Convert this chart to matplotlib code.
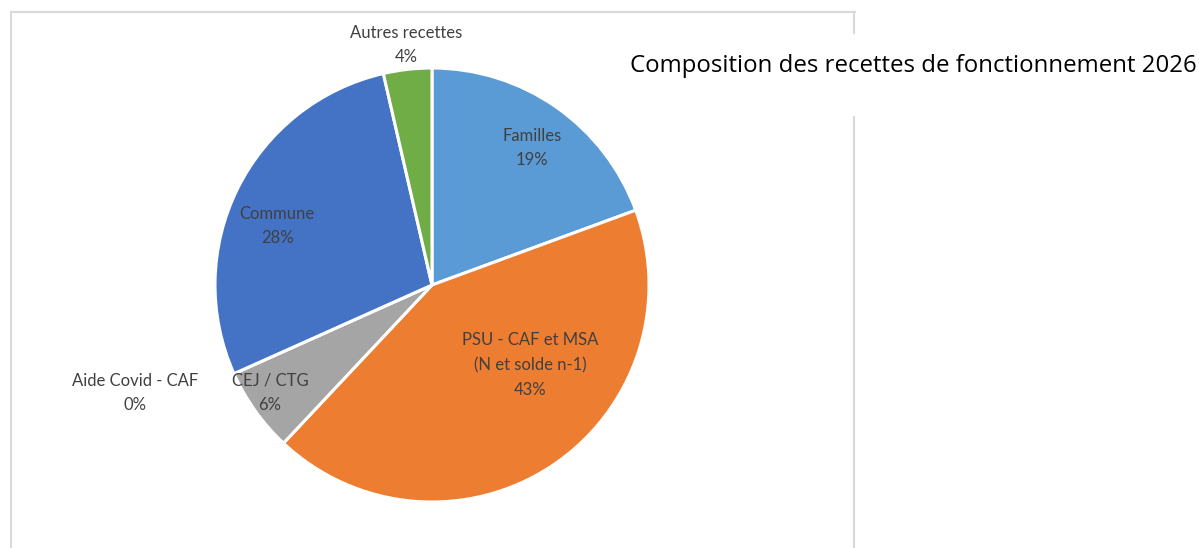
import matplotlib
matplotlib.use("Agg")
import matplotlib.pyplot as plt
from matplotlib.lines import Line2D
import numpy as np

categories = ["Familles", "PSU - CAF et MSA\n(N et solde n-1)", "CEJ / CTG",
              "Aide Covid - CAF", "Commune", "Autres recettes"]
values = [19.4, 42.6, 6.3, 0.0, 28.1, 3.6]
colors = ["#5B9BD5", "#ED7D31", "#A5A5A5", "#FFC000", "#4472C4", "#70AD47"]
title = "Composition des recettes de fonctionnement 2026"

# label placement (layout): (radius factor, angle offset in deg)
label_layout = [(0.782, -1.2), (0.583, 17.3), (0.897, -1.8), (1.456, -4.1),
                (0.764, 5.6), (1.112, -0.3)]

W, H = 1199, 548
fig = plt.figure(figsize=(W / 100, H / 100), dpi=100)
fig.patch.set_facecolor("white")

cx, cy, r = 432, 285, 217
ax = fig.add_axes([(cx - r) / W, (H - cy - r) / H, 2 * r / W, 2 * r / H])

wedges, _ = ax.pie(values, colors=colors, startangle=90, counterclock=False,
                   radius=1, wedgeprops=dict(edgecolor="white", linewidth=2.2))
ax.set_xlim(-1, 1)
ax.set_ylim(-1, 1)
ax.set_aspect("equal")
ax.axis("off")

for w, cat, v, (rf, dang) in zip(wedges, categories, values, label_layout):
    mid = np.deg2rad((w.theta1 + w.theta2) / 2 + dang)
    x, y = rf * np.cos(mid), rf * np.sin(mid)
    ax.text(x, y, f"{cat}\n{v:.0f}%", ha="center", va="center", fontsize=12,
            color="#404040", family=["Lato", "DejaVu Sans"], linespacing=1.65,
            clip_on=False)

# chart frame
fc = "#D9D9D9"
def fl(x0, y0, x1, y1):
    fig.add_artist(Line2D([x0 / W, x1 / W], [1 - y0 / H, 1 - y1 / H],
                          color=fc, linewidth=1.5, transform=fig.transFigure))
fl(11, 12, 855, 12)
fl(11, 12, 11, H)
fl(854, 12, 854, 33)
fl(854, 117, 854, H)

fig.text(1197 / W, 1 - 66 / H, title, ha="right", va="center", fontsize=17.3,
         color="#000000", family=["Open Sans", "DejaVu Sans"])

fig.savefig("out.png", dpi=100)
